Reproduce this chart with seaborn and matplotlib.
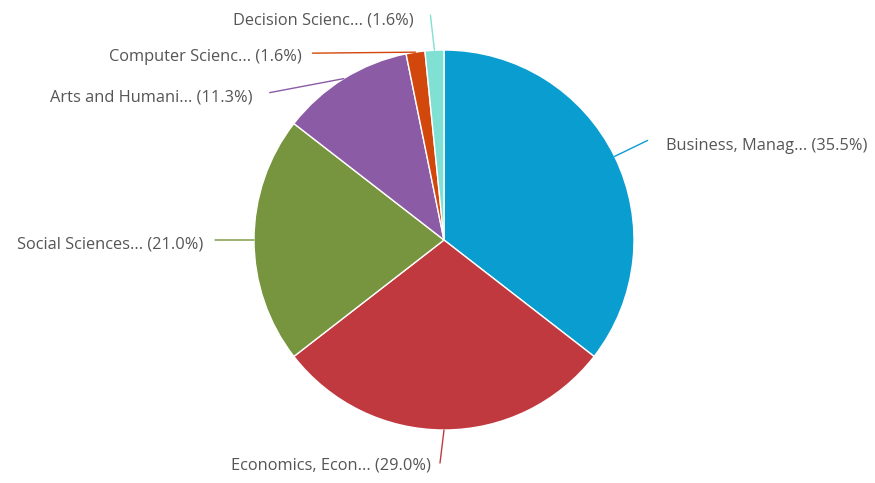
import numpy as np
import matplotlib
matplotlib.use("Agg")
import matplotlib.pyplot as plt
import seaborn as sns

# Share of documents by subject area
categories = [
    "Business, Manag...",
    "Economics, Econ...",
    "Social Sciences...",
    "Arts and Humani...",
    "Computer Scienc...",
    "Decision Scienc...",
]
shares = [35.5, 29.0, 21.0, 11.3, 1.6, 1.6]
colors = ["#0a9dd0", "#c0393f", "#77943e", "#8c5ba6", "#d2470b", "#7fe0d3"]

# connector elbow and label anchor, in pixels relative to the wedge edge
elbows = [(33, 16), (-4, -33), (-39, 0), (-74, -14), (-103, -1), (-4, 35)]
label_offsets = [(51, 10), (-13, -36), (-51, -4), (-91, -19), (-114, -5), (-21, 30)]
aligns = ["left", "right", "right", "right", "right", "right"]

sns.set_theme(style="white")
plt.rcParams["font.family"] = ["Open Sans", "DejaVu Sans"]
sns.set_palette(colors)

W, H = 875, 483
fig = plt.figure(figsize=(W / 100, H / 100), dpi=100)
fig.patch.set_facecolor("white")
cx, cy, r = 444, 240, 190
ax = fig.add_axes([(cx - r) / W, (H - cy - r) / H, 2 * r / W, 2 * r / H])

wedges, _ = ax.pie(
    shares,
    colors=sns.color_palette(),
    startangle=90,
    counterclock=False,
    radius=1,
    wedgeprops=dict(edgecolor="white", linewidth=1.0),
)
ax.set_xlim(-1, 1)
ax.set_ylim(-1, 1)
ax.set_axis_off()

total = float(sum(shares))
cum = 0.0
for name, val, col, elb, off, ha in zip(categories, shares, colors, elbows, label_offsets, aligns):
    theta = np.deg2rad(90 - 360 * (cum + val / 2) / total)
    cum += val
    edge = (np.cos(theta), np.sin(theta))
    ax.annotate(
        "", xy=edge, xycoords="data", xytext=elb, textcoords="offset pixels",
        arrowprops=dict(arrowstyle="-", color=col, lw=1.0, shrinkA=0, shrinkB=0),
        annotation_clip=False,
    )
    ax.annotate(
        f"{name} ({val:.1f}%)", xy=edge, xycoords="data", xytext=off,
        textcoords="offset pixels", ha=ha, va="center", fontsize=11.8,
        color="#555555", annotation_clip=False,
    )

fig.savefig("out.png", dpi=100, facecolor="white")
